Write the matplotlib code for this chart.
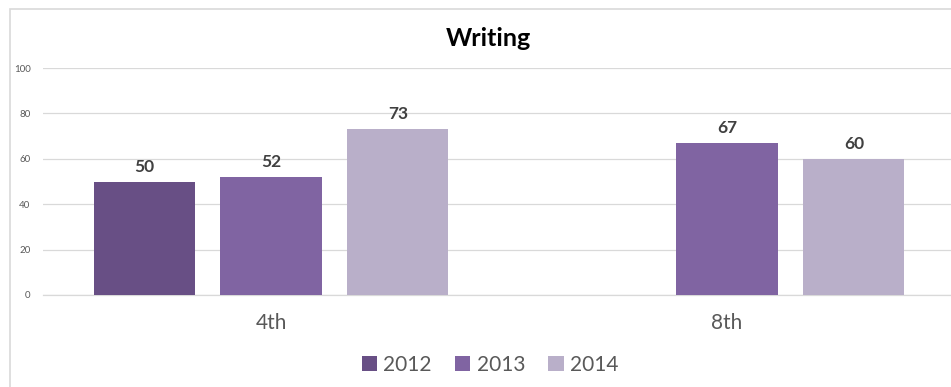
import numpy as np
import matplotlib.pyplot as plt
from matplotlib.patches import Rectangle

categories = ['4th', '8th']
years = ['2012', '2013', '2014']
vals_2012 = [50, np.nan]
vals_2013 = [52, 67]
vals_2014 = [73, 60]
series = [vals_2012, vals_2013, vals_2014]
colors = ['#684f85', '#8064a2', '#b9afc9']

plt.rcParams['font.family'] = ['Lato', 'DejaVu Sans']

W, H = 951, 387
fig = plt.figure(figsize=(W / 100, H / 100), dpi=100)
ax = fig.add_axes([43 / W, (H - 295) / H, 912 / W, 227 / H])

# chart border (cut at right/bottom in the original)
fig.patches.append(Rectangle((10 / W, -0.1), 1.2, 1.1 - 9 / H, transform=fig.transFigure,
                             fill=False, edgecolor='#d9d9d9', lw=1.2, zorder=0))

x = np.arange(len(categories))
width = 0.2215
step = 0.2785
for i, (vals, yr, c) in enumerate(zip(series, years, colors)):
    pos = x + (i - 1) * step
    ax.bar(pos, vals, width, color=c, label=yr, zorder=3)
    for p, v in zip(pos, vals):
        if not np.isnan(v):
            ax.annotate(f'{v:.0f}', (p, v), textcoords='offset points', xytext=(0, 5),
                        ha='center', va='bottom', fontsize=12.5, weight='bold', color='#404040')

ax.set_xlim(-0.5, 1.5)
ax.set_ylim(0, 100)
ax.set_yticks(range(0, 101, 20))
ax.yaxis.grid(True, color='#d9d9d9', lw=0.9, zorder=0)
ax.tick_params(axis='y', length=0, labelsize=7, labelcolor='#595959', pad=9)
ax.set_xticks(x)
ax.set_xticklabels(categories)
ax.tick_params(axis='x', length=0, labelsize=15, labelcolor='#595959', pad=13)
for s in ['top', 'right', 'left']:
    ax.spines[s].set_visible(False)
ax.spines['bottom'].set_color('#d9d9d9')
ax.spines['bottom'].set_linewidth(0.9)

fig.text(488 / W, 1 - 38 / H, 'Writing', ha='center', va='center', fontsize=18, weight='bold', color='black')

fig.legend(loc='center', bbox_to_anchor=(490 / W, 1 - 365 / H), ncol=3, frameon=False,
           fontsize=15, handlelength=0.75, handleheight=0.75, handletextpad=0.3, columnspacing=1.1,
           labelcolor='#595959')

fig.savefig('out.png', dpi=100)
